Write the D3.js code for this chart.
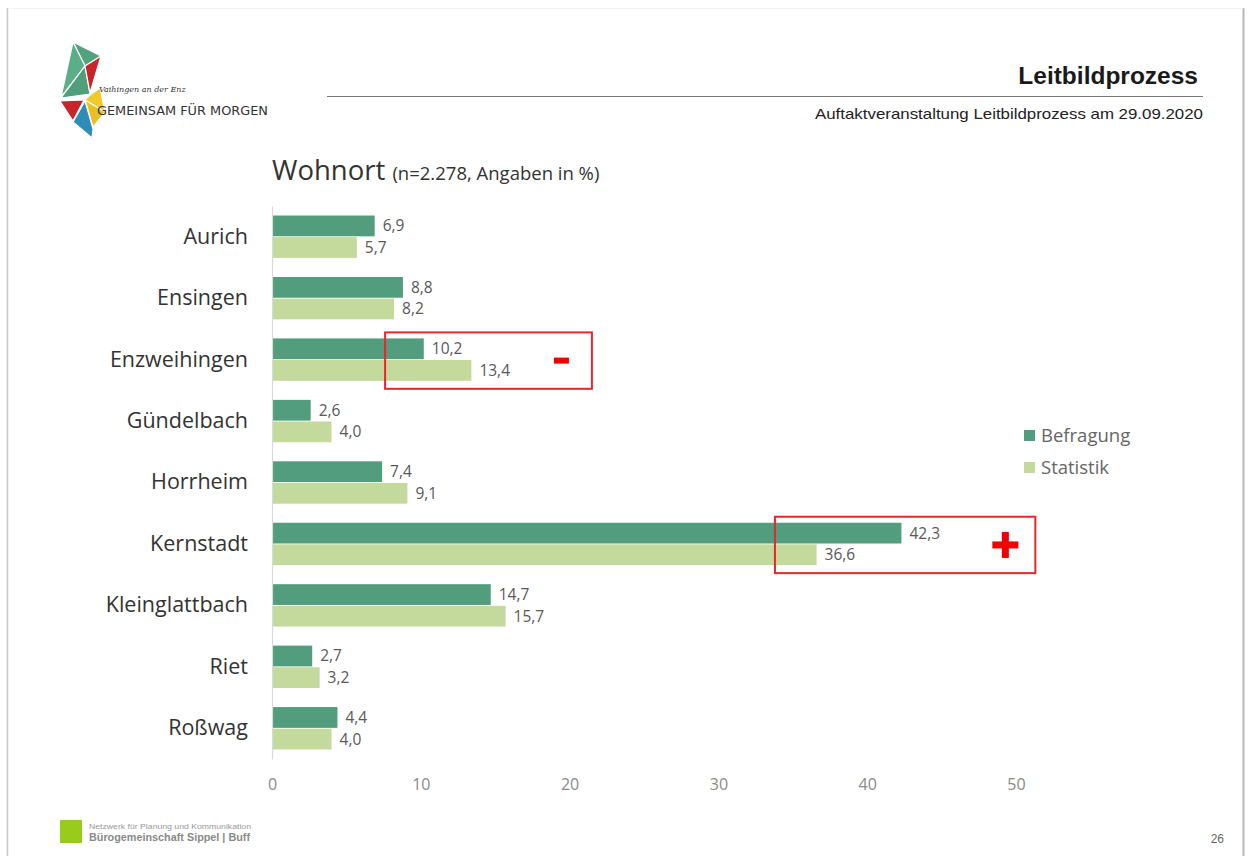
<!DOCTYPE html>
<html>
<head>
<meta charset="utf-8">
<script src="https://cdn.jsdelivr.net/npm/d3@7/dist/d3.min.js"></script>
<style>
  body { margin: 0; background: #fff; }
  svg { display: block; }
</style>
</head>
<body>
<svg id="chart" width="1249" height="856"></svg>
<script>
// data ==================================================
var orte = ["Aurich", "Ensingen", "Enzweihingen", "Gündelbach", "Horrheim",
            "Kernstadt", "Kleinglattbach", "Riet", "Roßwag"];
var befragung = [6.9, 8.8, 10.2, 2.6, 7.4, 42.3, 14.7, 2.7, 4.4];
var statistik = [5.7, 8.2, 13.4, 4.0, 9.1, 36.6, 15.7, 3.2, 4.0];
var serien = ["Befragung", "Statistik"];
var xTicks = [0, 10, 20, 30, 40, 50];
// red boxes drawn on the slide: category, from / to in %, sign
var markierungen = [
  { ort: "Enzweihingen", von: 7.6, bis: 21.5, zeichen: "-" },
  { ort: "Kernstadt", von: 33.8, bis: 51.3, zeichen: "+" }
];

var farben = { Befragung: "#519d7e", Statistik: "#c3da9c" };
var fmt = function(v) { return v.toFixed(1).replace(".", ","); };

// setup ==================================================
var svg = d3.select("#chart");
var labelFont = "'Open Sans', 'DejaVu Sans', sans-serif";

var x = d3.scaleLinear().domain([0, 50]).range([272, 1016]);
var y = d3.scaleBand().domain(orte).range([206, 759]).paddingInner(0.31).paddingOuter(0.155);
var sub = d3.scaleBand().domain(serien).range([0, y.bandwidth()]).paddingInner(0.04);

// slide frame
svg.append("line").attr("x1", 7.5).attr("x2", 7.5).attr("y1", 8).attr("y2", 856)
   .attr("stroke", "#c8c8c8").attr("stroke-width", 1.5);
svg.append("line").attr("x1", 1243.5).attr("x2", 1243.5).attr("y1", 8).attr("y2", 856)
   .attr("stroke", "#b8b8b8").attr("stroke-width", 2);
svg.append("line").attr("x1", 8).attr("x2", 1243).attr("y1", 8.5).attr("y2", 8.5)
   .attr("stroke", "#f0f0f0");

// header ==================================================
svg.append("text").attr("x", 1198).attr("y", 84)
   .attr("text-anchor", "end")
   .style("font-family", "'Liberation Sans', Arial, sans-serif")
   .style("font-weight", "bold").style("font-size", "24.5px").style("fill", "#1a1a1a")
   .text("Leitbildprozess");
svg.append("line").attr("x1", 327).attr("x2", 1203).attr("y1", 96.5).attr("y2", 96.5)
   .attr("stroke", "#777").attr("stroke-width", 1);
svg.append("text").attr("x", 815).attr("y", 119)
   .attr("textLength", 388).attr("lengthAdjust", "spacingAndGlyphs")
   .style("font-family", "'Liberation Sans', Arial, sans-serif")
   .style("font-size", "14.5px").style("fill", "#222")
   .text("Auftaktveranstaltung  Leitbildprozess  am  29.09.2020");

// logo
var logo = [
  { p: [[73,42],[101,56],[85,66]], c: "#4fa37f" },
  { p: [[73,42],[85,66],[61,97]], c: "#5aae88" },
  { p: [[85,66],[90,94],[61,98]], c: "#4f9e7c" },
  { p: [[101,56],[90,93],[85,66]], c: "#c8242c" },
  { p: [[60,101],[84,100],[73,121]], c: "#c8242c" },
  { p: [[90,95],[100,88],[105,112],[85,100]], c: "#f0c828" },
  { p: [[85,100],[105,112],[93,127]], c: "#e8c020" },
  { p: [[73,122],[85,101],[93,129],[92,138]], c: "#2e8cb8" }
];
svg.append("g").selectAll("polygon").data(logo).join("polygon")
   .attr("points", function(d) { return d.p.join(" "); })
   .attr("fill", function(d) { return d.c; })
   .attr("stroke", "#fff").attr("stroke-width", 1.2);
svg.append("text").attr("x", 99).attr("y", 92)
   .style("font-family", "'DejaVu Serif', serif").style("font-style", "italic")
   .style("font-size", "8px").style("fill", "#333")
   .text("Vaihingen an der Enz");
svg.append("text").attr("x", 97).attr("y", 115)
   .attr("textLength", 171).attr("lengthAdjust", "spacingAndGlyphs")
   .style("font-family", "'DejaVu Sans Condensed', 'DejaVu Sans', sans-serif")
   .style("font-size", "13px").style("fill", "#333")
   .text("GEMEINSAM FÜR MORGEN");

// title
var titel = svg.append("text").attr("x", 272).attr("y", 180)
   .style("font-family", labelFont).style("fill", "#333");
titel.append("tspan").style("font-size", "27.5px").text("Wohnort ");
titel.append("tspan").style("font-size", "18.5px").text("(n=2.278, Angaben in %)");

// chart ==================================================
var rows = orte.map(function(o, i) {
  return { ort: o, werte: [
    { serie: "Befragung", wert: befragung[i] },
    { serie: "Statistik", wert: statistik[i] } ] };
});

var gRows = svg.append("g").selectAll("g").data(rows).join("g")
   .attr("transform", function(d) { return "translate(0," + y(d.ort) + ")"; });

gRows.selectAll("rect").data(function(d) { return d.werte; }).join("rect")
   .attr("x", x(0))
   .attr("y", function(d) { return sub(d.serie); })
   .attr("width", function(d) { return x(d.wert) - x(0); })
   .attr("height", sub.bandwidth())
   .attr("fill", function(d) { return farben[d.serie]; });

gRows.selectAll("text.wert").data(function(d) { return d.werte; }).join("text")
   .attr("class", "wert")
   .attr("x", function(d) { return x(d.wert) + 8; })
   .attr("y", function(d) { return sub(d.serie) + sub.bandwidth() / 2; })
   .attr("dy", "0.35em")
   .style("font-family", labelFont).style("font-size", "15.5px").style("fill", "#595959")
   .text(function(d) { return fmt(d.wert); });

// category axis
var yAxis = svg.append("g").attr("transform", "translate(" + x(0) + ",0)")
   .call(d3.axisLeft(y).tickSize(0).tickPadding(24));
yAxis.select(".domain").attr("stroke", "#d9d9d9").attr("stroke-width", 1.2);
yAxis.selectAll("text").style("font-family", labelFont).style("font-size", "21.5px")
   .style("fill", "#333");

// value axis (labels only)
var xAxis = svg.append("g").attr("transform", "translate(0,775)")
   .call(d3.axisBottom(x).tickValues(xTicks).tickSize(0).tickPadding(4));
xAxis.select(".domain").remove();
xAxis.selectAll("text").style("font-family", labelFont).style("font-size", "16px")
   .style("fill", "#8a8a8a");

// legend
var leg = svg.append("g").selectAll("g").data(serien).join("g")
   .attr("transform", function(d, i) { return "translate(1024," + (430 + i * 32) + ")"; });
leg.append("rect").attr("width", 11).attr("height", 11)
   .attr("fill", function(d) { return farben[d]; });
leg.append("text").attr("x", 17).attr("y", 6).attr("dy", "0.35em")
   .style("font-family", labelFont).style("font-size", "18.5px").style("fill", "#666")
   .text(function(d) { return d; });

// red markers
var mk = svg.append("g").selectAll("g").data(markierungen).join("g");
mk.append("rect")
   .attr("x", function(d) { return x(d.von); })
   .attr("y", function(d) { return y(d.ort) - 6; })
   .attr("width", function(d) { return x(d.bis) - x(d.von); })
   .attr("height", function(d) { return y.bandwidth() + 14; })
   .attr("fill", "none").attr("stroke", "#e8262b").attr("stroke-width", 2);
mk.each(function(d) {
  var g = d3.select(this);
  var cx = x(d.bis) - 30, cy = y(d.ort) + y.bandwidth() / 2 + 1;
  if (d.zeichen === "-") {
    g.append("rect").attr("x", cx - 8).attr("y", cy - 3).attr("width", 15).attr("height", 6)
     .attr("fill", "#f00000");
  } else {
    g.append("rect").attr("x", cx - 13).attr("y", cy - 3.5).attr("width", 26).attr("height", 7)
     .attr("fill", "#f00000");
    g.append("rect").attr("x", cx - 3.5).attr("y", cy - 13).attr("width", 7).attr("height", 26)
     .attr("fill", "#f00000");
  }
});

// footer
svg.append("rect").attr("x", 60).attr("y", 820).attr("width", 22).attr("height", 23)
   .attr("fill", "#99cc1a");
svg.append("text").attr("x", 89).attr("y", 829)
   .attr("textLength", 162).attr("lengthAdjust", "spacingAndGlyphs")
   .style("font-family", "'Liberation Sans', Arial, sans-serif").style("font-size", "7.5px")
   .style("fill", "#999").text("Netzwerk für Planung und Kommunikation");
svg.append("text").attr("x", 89).attr("y", 841)
   .attr("textLength", 161).attr("lengthAdjust", "spacingAndGlyphs")
   .style("font-family", "'Liberation Sans', Arial, sans-serif").style("font-size", "10px")
   .style("font-weight", "bold").style("fill", "#8a8a8a").text("Bürogemeinschaft Sippel | Buff");
svg.append("text").attr("x", 1224).attr("y", 843).attr("text-anchor", "end")
   .style("font-family", "'Liberation Sans', Arial, sans-serif").style("font-size", "12px")
   .style("fill", "#666").text("26");
</script>
</body>
</html>
